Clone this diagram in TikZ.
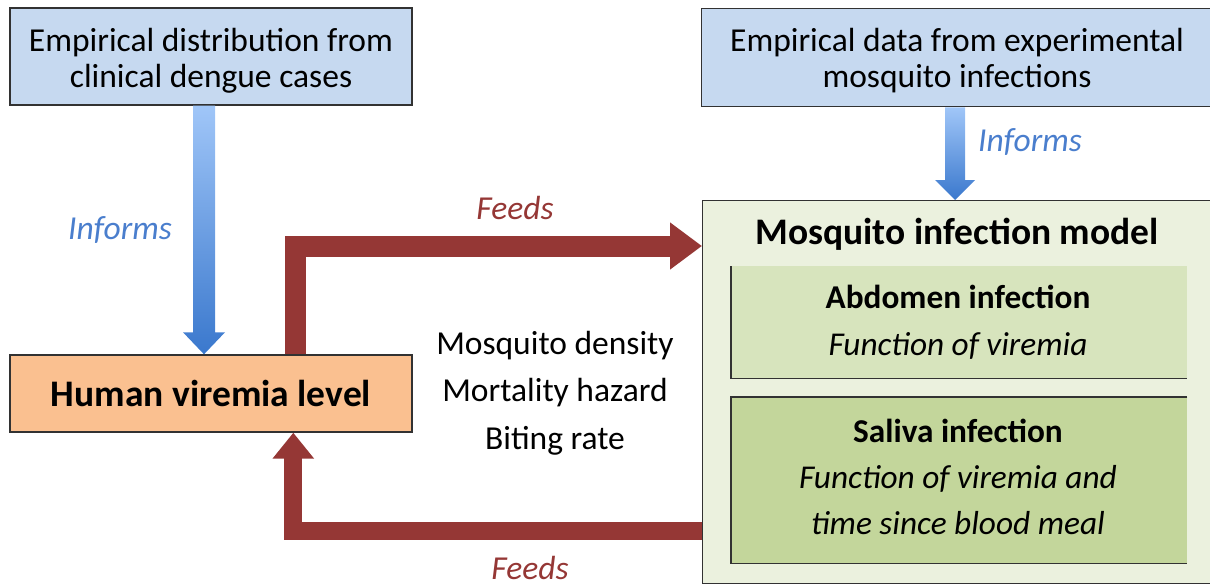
\documentclass[tikz,border=0pt]{standalone}
\usepackage{fontspec}
\setmainfont{Carlito}
\usetikzlibrary{arrows.meta,calc}
\definecolor{boxblue}{RGB}{198,217,240}
\definecolor{boxorange}{RGB}{250,192,144}
\definecolor{modelgreen}{RGB}{235,241,222}
\definecolor{abdgreen}{RGB}{215,228,189}
\definecolor{salgreen}{RGB}{195,214,155}
\definecolor{feedred}{RGB}{149,55,53}
\definecolor{informblue}{RGB}{74,126,205}
\definecolor{arrowtop}{RGB}{160,198,248}
\definecolor{arrowbot}{RGB}{58,120,205}
\definecolor{edgegray}{RGB}{50,50,50}
\begin{document}
\begin{tikzpicture}[x=1pt,y=-1pt,
  txt/.style={font=\fontsize{33.5}{36}\selectfont, align=center, inner sep=0pt},
  boxbase/.style={draw=edgegray, line width=1.4pt, inner sep=0pt, align=center},
  bluebox/.style={boxbase, fill=boxblue},
  redarrow/.style={draw=feedred, line width=21pt, line join=miter,
    -{Triangle[length=32pt,width=45pt]}},
  redarrowb/.style={draw=feedred, line width=18pt, line join=miter,
    -{Triangle[length=26pt,width=40pt]}},
  feedlabel/.style={txt, text=feedred, font=\fontsize{33.5}{36}\selectfont\itshape},
  informlabel/.style={txt, text=informblue, font=\fontsize{33.5}{36}\selectfont\itshape},
  blueshade/.style={top color=arrowtop, bottom color=arrowbot}
]
\useasboundingbox (0,0) rectangle (1210,586);

% boxes
\node[bluebox, minimum width=402pt, minimum height=97pt] (src1) at (211,56.5) {};
\node[txt] (src1t) at (211,61) {Empirical distribution from\\clinical dengue cases};
\node[bluebox, minimum width=514pt, minimum height=98pt, anchor=north west] (src2) at (701,8) {};
\node[txt] (src2t) at (957,61) {Empirical data from experimental\\mosquito infections};
\node[boxbase, fill=boxorange, minimum width=402pt, minimum height=77pt,
  font=\fontsize{37.5}{40}\selectfont\bfseries] (human) at (211,393.5) {Human viremia level};
\node[boxbase, fill=modelgreen, minimum width=514pt, minimum height=383pt, anchor=north west] (model) at (702,200) {};
\node[txt, font=\fontsize{37.5}{40}\selectfont\bfseries] (modelt) at (957,234) {Mosquito infection model};

\node[fill=abdgreen, minimum width=456pt, minimum height=112pt, inner sep=0pt, anchor=north west] (abd) at (731,266) {};
\draw[edgegray, line width=1.4pt] (abd.north west) -- (abd.south west) -- (abd.south east);
\node[txt, font=\fontsize{33.3}{47}\selectfont] (abdt) at (958,322)
  {\textbf{Abdomen infection}\\\textit{Function of viremia}};

\node[fill=salgreen, minimum width=456pt, minimum height=166pt, inner sep=0pt, anchor=north west] (sal) at (731,397) {};
\draw[edgegray, line width=1.4pt] (sal.north east) -- (sal.north west) -- (sal.south west) -- (sal.south east);
\node[txt, font=\fontsize{33.3}{46}\selectfont] (salt) at (958,477)
  {\textbf{Saliva infection}\\\textit{Function of viremia and}\\\textit{time since blood meal}};

\node[txt, font=\fontsize{33.5}{47.5}\selectfont] (params) at (555,393)
  {Mosquito density\\Mortality hazard\\Biting rate};

% blue arrows
\coordinate (b1s) at ($(src1.south)+(-7,0)$);
\coordinate (b1t) at ($(human.north)+(-7,0)$);
\shade[blueshade] let \p1=(b1s), \p2=(b1t) in
  (\x1-11,\y1) -- (\x1+11,\y1) -- (\x1+11,\y2+22) -- (\x1+21,\y2+22) --
  (\x2,\y2) -- (\x1-21,\y2+22) -- (\x1-11,\y2+22) -- cycle;
\coordinate (b2s) at ($(src2.south west)+(254,0)$);
\coordinate (b2t) at ($(model.north west)+(253,0)$);
\shade[blueshade] let \p1=(b2s), \p2=(b2t) in
  (\x1-10,\y1) -- (\x1+10,\y1) -- (\x1+10,\y2+20) -- (\x1+20,\y2+20) --
  (\x2,\y2) -- (\x1-20,\y2+20) -- (\x1-10,\y2+20) -- cycle;

% red arrows
\draw[redarrow] ($(human.north west)+(286,0)$) |- ($(model.north west)+(0,46)$);
\draw[redarrowb] ($(model.south west)+(0,-53)$) -| ($(human.south west)+(284,0)$);

% labels
\node[informlabel] (inf1) at (120,230) {Informs};
\node[informlabel] (inf2) at (1030,142) {Informs};
\node[feedlabel] (feed1) at (515,208) {Feeds};
\node[feedlabel] (feed2) at (530,568) {Feeds};
\end{tikzpicture}
\end{document}
